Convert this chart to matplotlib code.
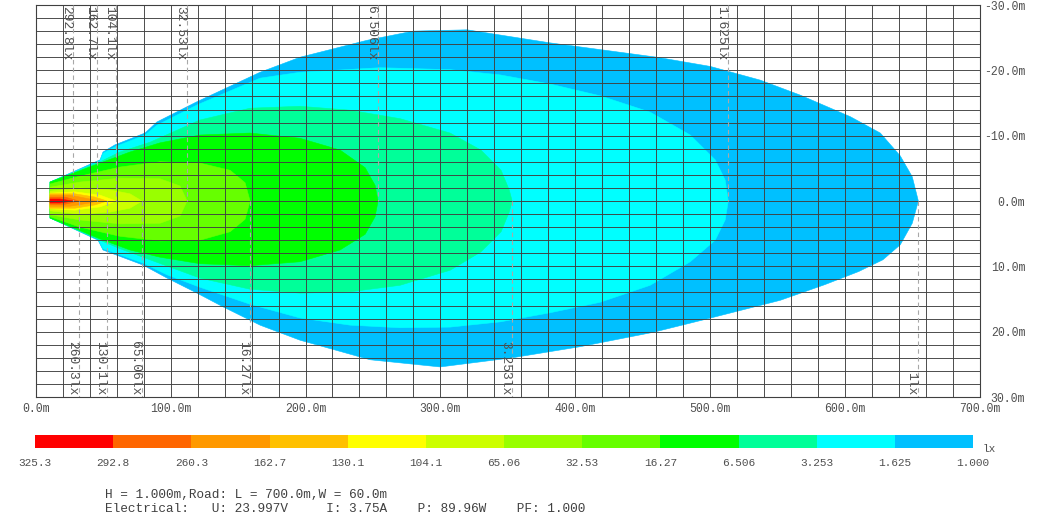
import matplotlib
matplotlib.use('Agg')
import matplotlib.pyplot as plt
import numpy as np

plt.rcParams['font.family'] = ['Liberation Mono', 'DejaVu Sans Mono']

# ---------------- data ----------------
# colour bar (left -> right)
cbar_labels = ["325.3", "292.8", "260.3", "162.7", "130.1", "104.1", "65.06",
               "32.53", "16.27", "6.506", "3.253", "1.625", "1.000"]
cbar_colors = ['#FF0000', '#FF6600', '#FF9900', '#FFC000', '#FFFF00', '#CCFF00',
               '#99FF00', '#66FF00', '#00FF00', '#00FF99', '#00FFFF', '#00C0FF']

# isolux outlines (x in m along road, y in m across road); top edge and bottom edge
iso_1000_xt = [10.6, 47.7, 49.9, 58.8, 81.0, 89.9, 119.6, 166.3, 195.9, 245.7, 279.8, 319.8,
               381.4, 460.7, 500.0, 537.1, 566.8, 603.9, 626.1, 640.9, 649.8, 654.3]
iso_1000_yt = [-2.9, -6.3, -7.5, -8.6, -10.4, -12.1, -15.2, -19.7, -22.0, -24.6, -26.0, -26.2,
               -24.2, -22.0, -20.6, -18.5, -16.2, -12.9, -10.4, -6.9, -3.7, 0.0]
iso_1000_xb = [10.6, 46.2, 49.9, 79.5, 97.4, 119.6, 138.9, 166.3, 195.9, 247.9, 299.8, 353.2,
               403.6, 457.7, 494.8, 551.9, 585.0, 610.0, 628.0, 640.9, 649.8, 654.3]
iso_1000_yb = [2.6, 6.0, 7.5, 9.8, 11.8, 14.1, 16.2, 19.0, 21.3, 24.3, 25.4, 24.0,
               22.3, 20.1, 18.2, 15.2, 12.8, 10.8, 9.0, 6.7, 3.4, 0.0]

iso_1625_xt = [10.6, 47.7, 49.9, 58.8, 81.0, 89.9, 119.6, 166.3, 195.9, 255.3, 307.2, 344.3,
               381.4, 418.4, 455.5, 485.2, 503.7, 511.1, 513.4]
iso_1625_yt = [-2.9, -6.1, -7.3, -8.3, -10.1, -11.6, -14.7, -18.8, -19.7, -20.4, -20.1, -19.3,
               -17.9, -16.1, -13.6, -10.1, -6.3, -3.2, 0.0]
iso_1625_xb = [10.6, 46.2, 49.9, 79.5, 97.4, 121.8, 158.9, 195.9, 233.0, 270.1, 307.2, 344.3,
               381.4, 418.4, 455.5, 485.2, 503.7, 511.1, 513.4]
iso_1625_yb = [2.6, 5.8, 7.3, 9.5, 11.3, 13.2, 15.8, 17.9, 19.0, 19.4, 19.3, 18.5,
               17.1, 15.5, 12.9, 9.3, 6.0, 2.9, 0.0]

iso_3253_x = [10.6, 47.7, 62.5, 84.8, 121.8, 158.9, 195.9, 233.0, 270.1, 307.2, 330.0, 345.0, 351.0, 353.2]
iso_3253_yt = [-2.9, -6.0, -7.5, -9.0, -12.4, -14.2, -14.5, -13.9, -12.6, -10.4, -7.8, -4.7, -1.7, 0.0]
iso_3253_yb = [2.6, 6.0, 7.3, 9.0, 11.8, 13.5, 14.1, 13.9, 12.9, 10.6, 7.8, 4.7, 1.7, 0.0]

iso_6506_x = [10.6, 47.7, 69.9, 92.2, 121.8, 158.9, 195.9, 225.6, 244.2, 251.6, 253.8]
iso_6506_yt = [-2.9, -5.8, -7.5, -8.9, -10.1, -10.4, -9.6, -7.8, -5.1, -2.4, 0.0]
iso_6506_yb = [2.6, 5.8, 7.5, 8.6, 9.6, 9.9, 9.3, 7.5, 5.1, 2.4, 0.0]

iso_1627_x = [10.6, 32.8, 62.5, 92.2, 121.8, 144.1, 155.2, 158.9]
iso_1627_yt = [-2.6, -3.8, -5.2, -6.0, -5.8, -4.7, -2.8, 0.0]
iso_1627_yb = [2.4, 4.0, 5.4, 6.1, 6.0, 4.7, 2.8, 0.0]

iso_3253b_x = [10.6, 32.8, 62.5, 92.2, 107.0, 112.2]
iso_3253b_yt = [-2.1, -2.9, -3.5, -3.4, -2.3, 0.0]
iso_3253b_yb = [2.1, 2.9, 3.5, 3.4, 2.3, 0.0]

iso_6506b_x = [10.6, 32.8, 55.1, 69.9, 78.8]
iso_6506b_yt = [-1.5, -2.0, -1.7, -1.1, 0.0]
iso_6506b_yb = [1.5, 2.0, 1.7, 1.1, 0.0]

iso_1041_x = [10.6, 29.1, 47.7, 59.5]
iso_1041_yt = [-1.2, -1.4, -0.9, 0.0]
iso_1041_yb = [1.2, 1.4, 0.9, 0.0]

iso_1301_x = [10.6, 29.1, 44.0, 52.9]
iso_1301_yt = [-1.1, -1.1, -0.6, 0.0]
iso_1301_yb = [1.1, 1.1, 0.6, 0.0]

iso_1627b_x = [10.6, 25.4, 40.3, 45.5]
iso_1627b_yt = [-0.9, -0.9, -0.3, 0.0]
iso_1627b_yb = [0.8, 0.8, 0.3, 0.0]

iso_2603_x = [10.6, 21.7, 32.1]
iso_2603_yt = [-0.6, -0.6, 0.0]
iso_2603_yb = [0.5, 0.5, 0.0]

iso_2928_x = [10.6, 18.0, 27.7]
iso_2928_yt = [-0.3, -0.3, 0.0]
iso_2928_yb = [0.3, 0.3, 0.0]

# isoline labels: (text, position top/bottom)
label_texts = ["292.8lx", "162.7lx", "104.1lx", "32.53lx", "6.506lx", "1.625lx",
               "260.3lx", "130.1lx", "65.06lx", "16.27lx", "3.253lx", "1lx"]
label_side = ["top"] * 6 + ["bottom"] * 6

x_ticks = [0, 100, 200, 300, 400, 500, 600, 700]
x_tick_labels = ["0.0m", "100.0m", "200.0m", "300.0m", "400.0m", "500.0m", "600.0m", "700.0m"]
y_ticks = [-30, -20, -10, 0, 10, 20, 30]
y_tick_labels = ["-30.0m", "-20.0m", "-10.0m", "0.0m", "10.0m", "20.0m", "30.0m"]

info_line1 = "H = 1.000m,Road: L = 700.0m,W = 60.0m"
info_line2 = "Electrical:   U: 23.997V     I: 3.75A    P: 89.96W    PF: 1.000"

# ---------------- figure ----------------
W, H = 1060, 522
fig = plt.figure(figsize=(W / 100, H / 100), dpi=100)
ax = fig.add_axes([35.7 / W, 1 - 397 / H, (980 - 35.7) / W, 392 / H])
ax.set_xlim(0, 700)
ax.set_ylim(30, -30)

contours = [
    (iso_1000_xt, iso_1000_yt, iso_1000_xb, iso_1000_yb),
    (iso_1625_xt, iso_1625_yt, iso_1625_xb, iso_1625_yb),
    (iso_3253_x, iso_3253_yt, iso_3253_x, iso_3253_yb),
    (iso_6506_x, iso_6506_yt, iso_6506_x, iso_6506_yb),
    (iso_1627_x, iso_1627_yt, iso_1627_x, iso_1627_yb),
    (iso_3253b_x, iso_3253b_yt, iso_3253b_x, iso_3253b_yb),
    (iso_6506b_x, iso_6506b_yt, iso_6506b_x, iso_6506b_yb),
    (iso_1041_x, iso_1041_yt, iso_1041_x, iso_1041_yb),
    (iso_1301_x, iso_1301_yt, iso_1301_x, iso_1301_yb),
    (iso_1627b_x, iso_1627b_yt, iso_1627b_x, iso_1627b_yb),
    (iso_2603_x, iso_2603_yt, iso_2603_x, iso_2603_yb),
    (iso_2928_x, iso_2928_yt, iso_2928_x, iso_2928_yb),
]
fill_colors = cbar_colors[::-1]
for (xt, yt, xb, yb), c in zip(contours, fill_colors):
    px = list(xt) + list(xb[::-1])
    py = list(yt) + list(yb[::-1])
    ax.fill(px, py, color=c, lw=0.4, ec=c, zorder=1)

# grid
ax.vlines(np.arange(0, 701, 20), -30, 30, color='#404040', lw=0.65, zorder=3)
ax.hlines(np.arange(-30, 31, 2), 0, 700, color='#404040', lw=0.65, zorder=3)
for s in ax.spines.values():
    s.set_color('#404040')
    s.set_linewidth(0.8)

# isoline labels + dashed markers
label_levels = [11, 9, 7, 5, 3, 1, 10, 8, 6, 4, 2, 0]
for txt, side, li in zip(label_texts, label_side, label_levels):
    xt, yt, xb, yb = contours[li]
    tip = max(max(xt), max(xb))
    if side == "top":
        ax.plot([tip, tip], [-30, 0], ls=(0, (4, 3)), color='#a8a8a8', lw=0.8, zorder=4)
        ax.annotate(txt, xy=(tip, -30), xytext=(-5.2, -1), textcoords='offset points',
                    rotation=-90, ha='center', va='top', fontsize=9.4, color='#505050', zorder=5)
    else:
        ax.plot([tip, tip], [0, 30], ls=(0, (4, 3)), color='#a8a8a8', lw=0.8, zorder=4)
        ax.annotate(txt, xy=(tip, 30), xytext=(-5.2, 1), textcoords='offset points',
                    rotation=-90, ha='center', va='bottom', fontsize=9.4, color='#505050', zorder=5)

ax.set_xticks(x_ticks)
ax.set_xticklabels(x_tick_labels)
ax.yaxis.tick_right()
ax.set_yticks(y_ticks)
ax.set_yticklabels(y_tick_labels)
ax.tick_params(axis='both', length=0, labelsize=8.3, labelcolor='#505050')
ax.tick_params(axis='x', pad=4)
ax.tick_params(axis='y', pad=32.5)
for lab in ax.get_yticklabels():
    lab.set_horizontalalignment('right')

# colour bar
cax = fig.add_axes([35 / W, 1 - 448 / H, (973 - 35) / W, 13 / H])
cax.bar(np.arange(len(cbar_colors)), 1, width=1, align='edge', color=cbar_colors, lw=0)
cax.set_xlim(0, len(cbar_colors))
cax.set_ylim(0, 1)
cax.set_xticks(np.arange(len(cbar_labels)))
cax.set_xticklabels(cbar_labels)
cax.set_yticks([])
cax.tick_params(axis='x', length=0, pad=7, labelsize=8, labelcolor='#505050')
for s in cax.spines.values():
    s.set_visible(False)
fig.text(983 / W, 1 - 449 / H, "lx", fontsize=8, color='#505050', va='center', ha='left')

fig.text(105 / W, 1 - 495 / H, info_line1, fontsize=9.2, color='#404040', va='center', ha='left')
fig.text(105 / W, 1 - 509 / H, info_line2, fontsize=9.2, color='#404040', va='center', ha='left')

fig.savefig('out.png', dpi=100)
